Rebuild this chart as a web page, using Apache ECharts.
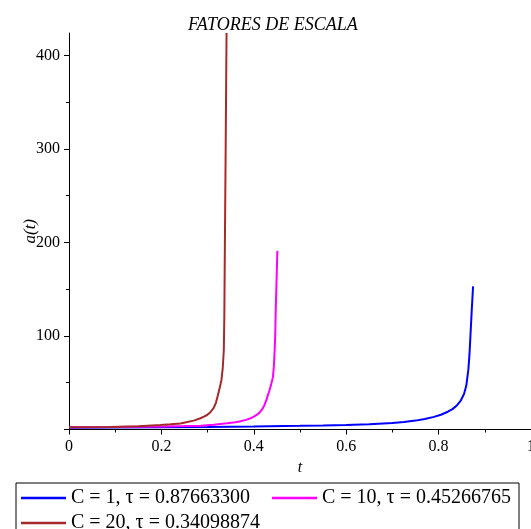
<!DOCTYPE html>
<html>
<head>
<meta charset="utf-8">
<script src="https://cdn.jsdelivr.net/npm/echarts@6/dist/echarts.min.js"></script>
<style>
html,body{margin:0;padding:0;background:#fff;}
#chart{width:531px;height:529px;}
</style>
</head>
<body>
<div id="chart"></div>
<script>
// ---- data ----
const titleText = 'FATORES DE ESCALA';
const seriesNames = ['C = 1, τ = 0.87663300', 'C = 10, τ = 0.45266765', 'C = 20, τ = 0.34098874'];
const seriesColors = ['#0000FF', '#FF00FF', '#A52A2A'];

const tC1 = [0, 0.1, 0.2, 0.3, 0.4, 0.5, 0.55, 0.6, 0.65, 0.7, 0.725, 0.75, 0.77, 0.79, 0.805, 0.82, 0.83, 0.84, 0.848, 0.855, 0.86, 0.8644, 0.8668, 0.8688, 0.8718, 0.8746];
const aC1 = [2.0, 2.2, 2.5, 2.8, 3.3, 3.9, 4.3, 4.8, 5.5, 6.9, 8.0, 9.5, 11.2, 13.5, 15.8, 19, 21.8, 26, 31, 38, 47, 64, 80, 99, 128, 153];

const tC10 = [0, 0.1, 0.2, 0.25, 0.285, 0.313, 0.342, 0.36, 0.3715, 0.383, 0.393, 0.401, 0.407, 0.413, 0.418, 0.4225, 0.4265, 0.43, 0.434, 0.4375, 0.4414, 0.4435, 0.4452, 0.4465, 0.4473, 0.449, 0.451];
const aC10 = [2.3, 2.7, 3.3, 3.7, 4.1, 5.2, 6.6, 7.7, 8.8, 10.3, 12, 14, 15.8, 18.5, 21.5, 25.5, 30.5, 36, 42, 48, 56, 68, 85, 103, 124, 155, 191];

const tC20 = [0, 0.089, 0.15, 0.198, 0.22, 0.2412, 0.256, 0.27, 0.2846, 0.292, 0.299, 0.306, 0.313, 0.318, 0.322, 0.326, 0.33, 0.3328, 0.3351, 0.3362, 0.3373, 0.3392, 0.341];
const aC20 = [2.4, 2.7, 3.5, 4.7, 5.5, 6.5, 8.0, 9.5, 12, 13.7, 15.5, 18.5, 23, 28.5, 36, 44, 53, 66, 85, 120, 192, 305, 424];

const xTicks = [0, 0.2, 0.4, 0.6, 0.8, 1];
const yTickValues = [0, 100, 200, 300, 400];
const yLabelValues = [100, 200, 300, 400];
const yMinorValues = [50, 150, 250, 350];
const yMax = 424;

// ---- chart ----
const pairs = (t, a) => t.map((v, i) => [v, a[i]]);
const tSets = [tC1, tC10, tC20];
const aSets = [aC1, aC10, aC20];
const FONT = '"Liberation Serif", "Times New Roman", serif';

const chart = echarts.init(document.getElementById('chart'), null, {renderer: 'canvas'});
const yCommon = {
  type: 'value', min: 0, max: yMax, interval: 100,
  splitLine: {show: false}
};
chart.setOption({
  animation: false,
  backgroundColor: '#fff',
  textStyle: {fontFamily: FONT},
  title: {
    text: titleText, left: 183, top: 11,
    textStyle: {fontFamily: FONT, fontStyle: 'italic', fontWeight: 'normal', fontSize: 18, color: '#000'}
  },
  grid: {left: 69, right: 0, top: 33, bottom: 99.5, containLabel: false, outerBoundsMode: 'none'},
  legend: {
    data: seriesNames,
    left: 16, top: 483,
    orient: 'horizontal',
    width: 505,
    padding: [5, 1, 5, 5],
    itemGap: 5,
    itemWidth: 45, itemHeight: 2.5,
    icon: 'rect',
    borderColor: '#000', borderWidth: 1,
    textStyle: {fontFamily: FONT, fontSize: 20, color: '#000', width: 196, lineHeight: 17}
  },
  xAxis: {
    type: 'value', min: 0, max: 1, interval: 0.2,
    name: 't', nameLocation: 'middle', nameGap: 30, nameMoveOverlap: false,
    nameTextStyle: {fontFamily: FONT, fontStyle: 'italic', fontSize: 16, color: '#000'},
    axisLine: {show: true, onZero: false, lineStyle: {color: '#000', width: 1}},
    axisTick: {show: true, length: 5, lineStyle: {color: '#000'}},
    minorTick: {show: true, splitNumber: 2, length: 3, lineStyle: {color: '#000'}},
    axisLabel: {fontFamily: FONT, fontSize: 16, color: '#000', margin: 9,
      formatter: v => (xTicks.indexOf(+v.toFixed(1)) >= 0 ? String(+v.toFixed(1)) : '')},
    splitLine: {show: false}
  },
  yAxis: [
    Object.assign({}, yCommon, {
      name: 'a(t)', nameLocation: 'middle', nameGap: 30, nameRotate: 90, nameMoveOverlap: false,
      nameTextStyle: {fontFamily: FONT, fontStyle: 'italic', fontSize: 17, color: '#000'},
      axisLine: {show: true, onZero: false, lineStyle: {color: '#000', width: 1}},
      axisTick: {show: true, length: 5, customValues: yTickValues, lineStyle: {color: '#000'}},
      axisLabel: {fontFamily: FONT, fontSize: 16, color: '#000', margin: 9, customValues: yLabelValues}
    }),
    Object.assign({}, yCommon, {
      position: 'left',
      axisLine: {show: false},
      axisTick: {show: true, length: 3, customValues: yMinorValues, lineStyle: {color: '#000'}},
      axisLabel: {show: false}
    })
  ],
  series: seriesNames.map((name, i) => ({
    name: name, type: 'line', xAxisIndex: 0, yAxisIndex: 0,
    data: pairs(tSets[i], aSets[i]),
    showSymbol: false, symbol: 'none', smooth: false, clip: true,
    color: seriesColors[i],
    lineStyle: {color: seriesColors[i], width: 2}
  }))
});
</script>
</body>
</html>
